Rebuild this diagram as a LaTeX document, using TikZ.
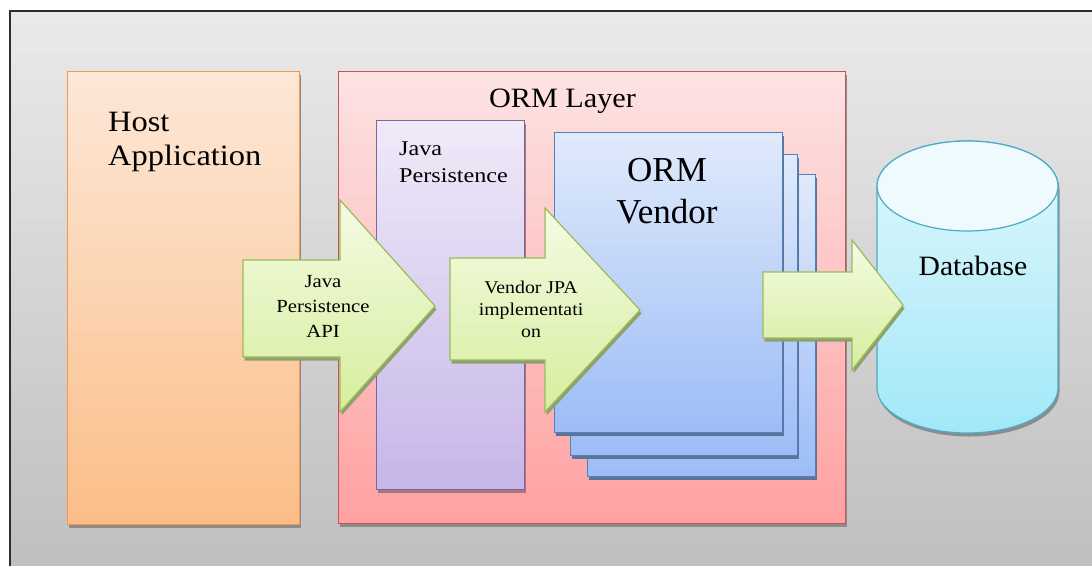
\documentclass[tikz,border=0pt]{standalone}
\usepackage{fontspec}
\setmainfont{Liberation Serif}
\newfontfamily\tnrfont{Liberation Serif}
\newfontfamily\lmfont{Latin Modern Roman}
\definecolor{bgtop}{HTML}{EAEAEA}
\definecolor{bgbot}{HTML}{BFBFBF}
\definecolor{framecol}{HTML}{2E2E2E}
\definecolor{hosttop}{HTML}{FDE8D8}
\definecolor{hostbot}{HTML}{FBBE88}
\definecolor{hostline}{HTML}{F79646}
\definecolor{ormtop}{HTML}{FDE3E3}
\definecolor{ormbot}{HTML}{FFA1A1}
\definecolor{ormline}{HTML}{C8545A}
\definecolor{jptop}{HTML}{EFEAF8}
\definecolor{jpbot}{HTML}{C6B6E8}
\definecolor{jpline}{HTML}{8064A2}
\definecolor{vtop}{HTML}{E0EAFB}
\definecolor{vbot}{HTML}{9DBDF6}
\definecolor{vline}{HTML}{4F81BD}
\definecolor{dbtop}{HTML}{E2F7FC}
\definecolor{dbbot}{HTML}{A2E8F8}
\definecolor{dbline}{HTML}{4BACC6}
\definecolor{artop}{HTML}{F4FBE4}
\definecolor{arbot}{HTML}{D6EE9C}
\definecolor{arline}{HTML}{9BBB59}
\definecolor{shgray}{HTML}{8C8C8C}
\definecolor{shpink}{HTML}{A87878}
\definecolor{shblue}{HTML}{5F7396}
\definecolor{shgreen}{HTML}{8FA070}
\newcommand{\myvgrad}[5]{%
  \begin{scope}
    \clip #1;
    \pgfmathsetmacro{\mystep}{(#5-#4)/40}%
    \foreach \i in {0,...,39}{%
      \pgfmathsetmacro{\ya}{#4+\mystep*\i}%
      \pgfmathsetmacro{\yb}{#4+\mystep*(\i+1)+0.8}%
      \pgfmathtruncatemacro{\p}{round(2.5*\i+1.25)}%
      \fill[#3!\p!#2] (0,\ya) rectangle (1092,\yb);
    }
  \end{scope}}
% #1 x-stretch, #2 size, #3 line distance, #4 alignment, #5 text
\newcommand{\stxt}[5]{\scalebox{#1}[1]{\tnrfont\fontsize{#2}{#3}\selectfont\begin{tabular}[t]{@{}#4@{}}#5\end{tabular}}}
\tikzset{
  boxbase/.style={shape=rectangle, anchor=north west, inner sep=0pt, line width=1.2pt},
  edge/.style={line width=1.2pt, line join=miter},
  lbl/.style={inner sep=0pt, text=black, font=\tnrfont},
}
\begin{document}
\begin{tikzpicture}[x=1pt,y=-1pt]
\useasboundingbox (0,0) rectangle (1092,565);
\fill[white] (0,0) rectangle (1092,565);
\myvgrad{(10,11) rectangle (1092,565)}{bgtop}{bgbot}{11}{565}
\draw[line width=2.5pt, framecol] (10,566) -- (10,11) -- (1093,11);

% host
\fill[shgray] (68.5,74.5) rectangle (300.5,527.5);
\myvgrad{(67,71) rectangle (299,524)}{hosttop}{hostbot}{71}{524}
\node[boxbase, draw=hostline, minimum width=232pt, minimum height=453pt] (host) at (67,71) {};
% orm layer
\fill[shgray] (339.5,74.5) rectangle (846.5,526.5);
\myvgrad{(338,71) rectangle (845,523)}{ormtop}{ormbot}{71}{523}
\node[boxbase, draw=ormline, minimum width=507pt, minimum height=452pt] (orm) at (338,71) {};
% java persistence
\fill[shpink] (377.5,123.5) rectangle (525.5,492.5);
\myvgrad{(376,120) rectangle (524,489)}{jptop}{jpbot}{120}{489}
\node[boxbase, draw=jpline, minimum width=148pt, minimum height=369pt] (jp) at (376,120) {};
% vendor pages
\fill[shblue] (588.5,177.5) rectangle (816.5,479.5);
\myvgrad{(587,174) rectangle (815,476)}{vtop}{vbot}{174}{476}
\node[boxbase, draw=vline, minimum width=228pt, minimum height=302pt] (vend3) at (587,174) {};
\fill[shblue] (571.5,157.5) rectangle (798.5,458.5);
\myvgrad{(570,154) rectangle (797,455)}{vtop}{vbot}{154}{455}
\node[boxbase, draw=vline, minimum width=227pt, minimum height=301pt] (vend2) at (570,154) {};
\fill[shblue] (555.5,135.5) rectangle (783.5,435.5);
\myvgrad{(554,132) rectangle (782,432)}{vtop}{vbot}{132}{432}
\node[boxbase, draw=vline, minimum width=228pt, minimum height=300pt] (vend1) at (554,132) {};

% labels
\node[lbl, anchor=base west] (hostlbl) at (108,131) {\stxt{1.1}{29.5}{34}{l}{Host\\Application}};
\node[lbl, anchor=base] (ormlbl) at (562.5,107.5) {\stxt{1.08}{28}{32}{c}{ORM Layer}};
\node[lbl, anchor=base west] (jplbl) at (399,155) {\stxt{1.15}{21}{27}{l}{Java\\Persistence}};
\node[lbl, anchor=base] (vendlbl) at (667,181.5) {\stxt{1.0}{35}{41.5}{c}{ORM\\Vendor}};

% database
\fill[shgray] (878.5,189.5) -- (878.5,391.5) arc[start angle=180, end angle=360, x radius=90.5pt, y radius=45pt]
  -- (1059.5,189.5) arc[start angle=0, end angle=180, x radius=90.5pt, y radius=45pt] -- cycle;
\myvgrad{(877,186) -- (877,388) arc[start angle=180, end angle=360, x radius=90.5pt, y radius=45pt] -- (1058,186) arc[start angle=0, end angle=180, x radius=90.5pt, y radius=45pt] -- cycle}{dbtop}{dbbot}{141}{433}
\draw[dbline, edge] (877,186) -- (877,388) arc[start angle=180, end angle=360, x radius=90.5pt, y radius=45pt]
  -- (1058,186) arc[start angle=0, end angle=180, x radius=90.5pt, y radius=45pt] -- cycle;
\myvgrad{(967.5,186) ellipse [x radius=90.5pt, y radius=45pt]}{dbtop!60!white}{dbtop}{141}{231}
\draw[dbline, edge] (967.5,186) ellipse [x radius=90.5pt, y radius=45pt];
\node[lbl, anchor=base] (dblbl) at (973,275) {\stxt{1.06}{28}{32}{c}{Database}};

% block arrow 1
\fill[shgreen] (244.5,263.5) -- (341.5,263.5) -- (341.5,203.5) -- (436.5,309.5) -- (341.5,415.5) -- (341.5,360.5) -- (244.5,360.5) -- cycle;
\myvgrad{(243,260) -- (340,260) -- (340,200) -- (435,306) -- (340,412) -- (340,357) -- (243,357) -- cycle}{artop}{arbot}{200}{412}
\draw[arline, edge] (243,260) -- (340,260) -- (340,200) -- (435,306) -- (340,412) -- (340,357) -- (243,357) -- cycle;
\node[lbl, anchor=base] (a1lbl) at (323,287) {\stxt{1.12}{18.5}{25}{c}{Java\\Persistence\\API}};
% block arrow 2
\fill[shgreen] (451.5,261.5) -- (546.5,261.5) -- (546.5,211.5) -- (641.5,313.5) -- (546.5,415.5) -- (546.5,363.5) -- (451.5,363.5) -- cycle;
\myvgrad{(450,258) -- (545,258) -- (545,208) -- (640,310) -- (545,412) -- (545,360) -- (450,360) -- cycle}{artop}{arbot}{208}{412}
\draw[arline, edge] (450,258) -- (545,258) -- (545,208) -- (640,310) -- (545,412) -- (545,360) -- (450,360) -- cycle;
\node[lbl, anchor=base] (a2lbl) at (531,293) {\stxt{1.1}{18}{22}{c}{Vendor JPA\\implementati\\on}};
% block arrow 3
\fill[shgreen] (764.5,275.5) -- (853.5,275.5) -- (853.5,243.5) -- (904.5,308.5) -- (853.5,373.5) -- (853.5,341.5) -- (764.5,341.5) -- cycle;
\myvgrad{(763,272) -- (852,272) -- (852,240) -- (903,305) -- (852,370) -- (852,338) -- (763,338) -- cycle}{artop}{arbot}{240}{370}
\draw[arline, edge] (763,272) -- (852,272) -- (852,240) -- (903,305) -- (852,370) -- (852,338) -- (763,338) -- cycle;
\end{tikzpicture}
\end{document}
